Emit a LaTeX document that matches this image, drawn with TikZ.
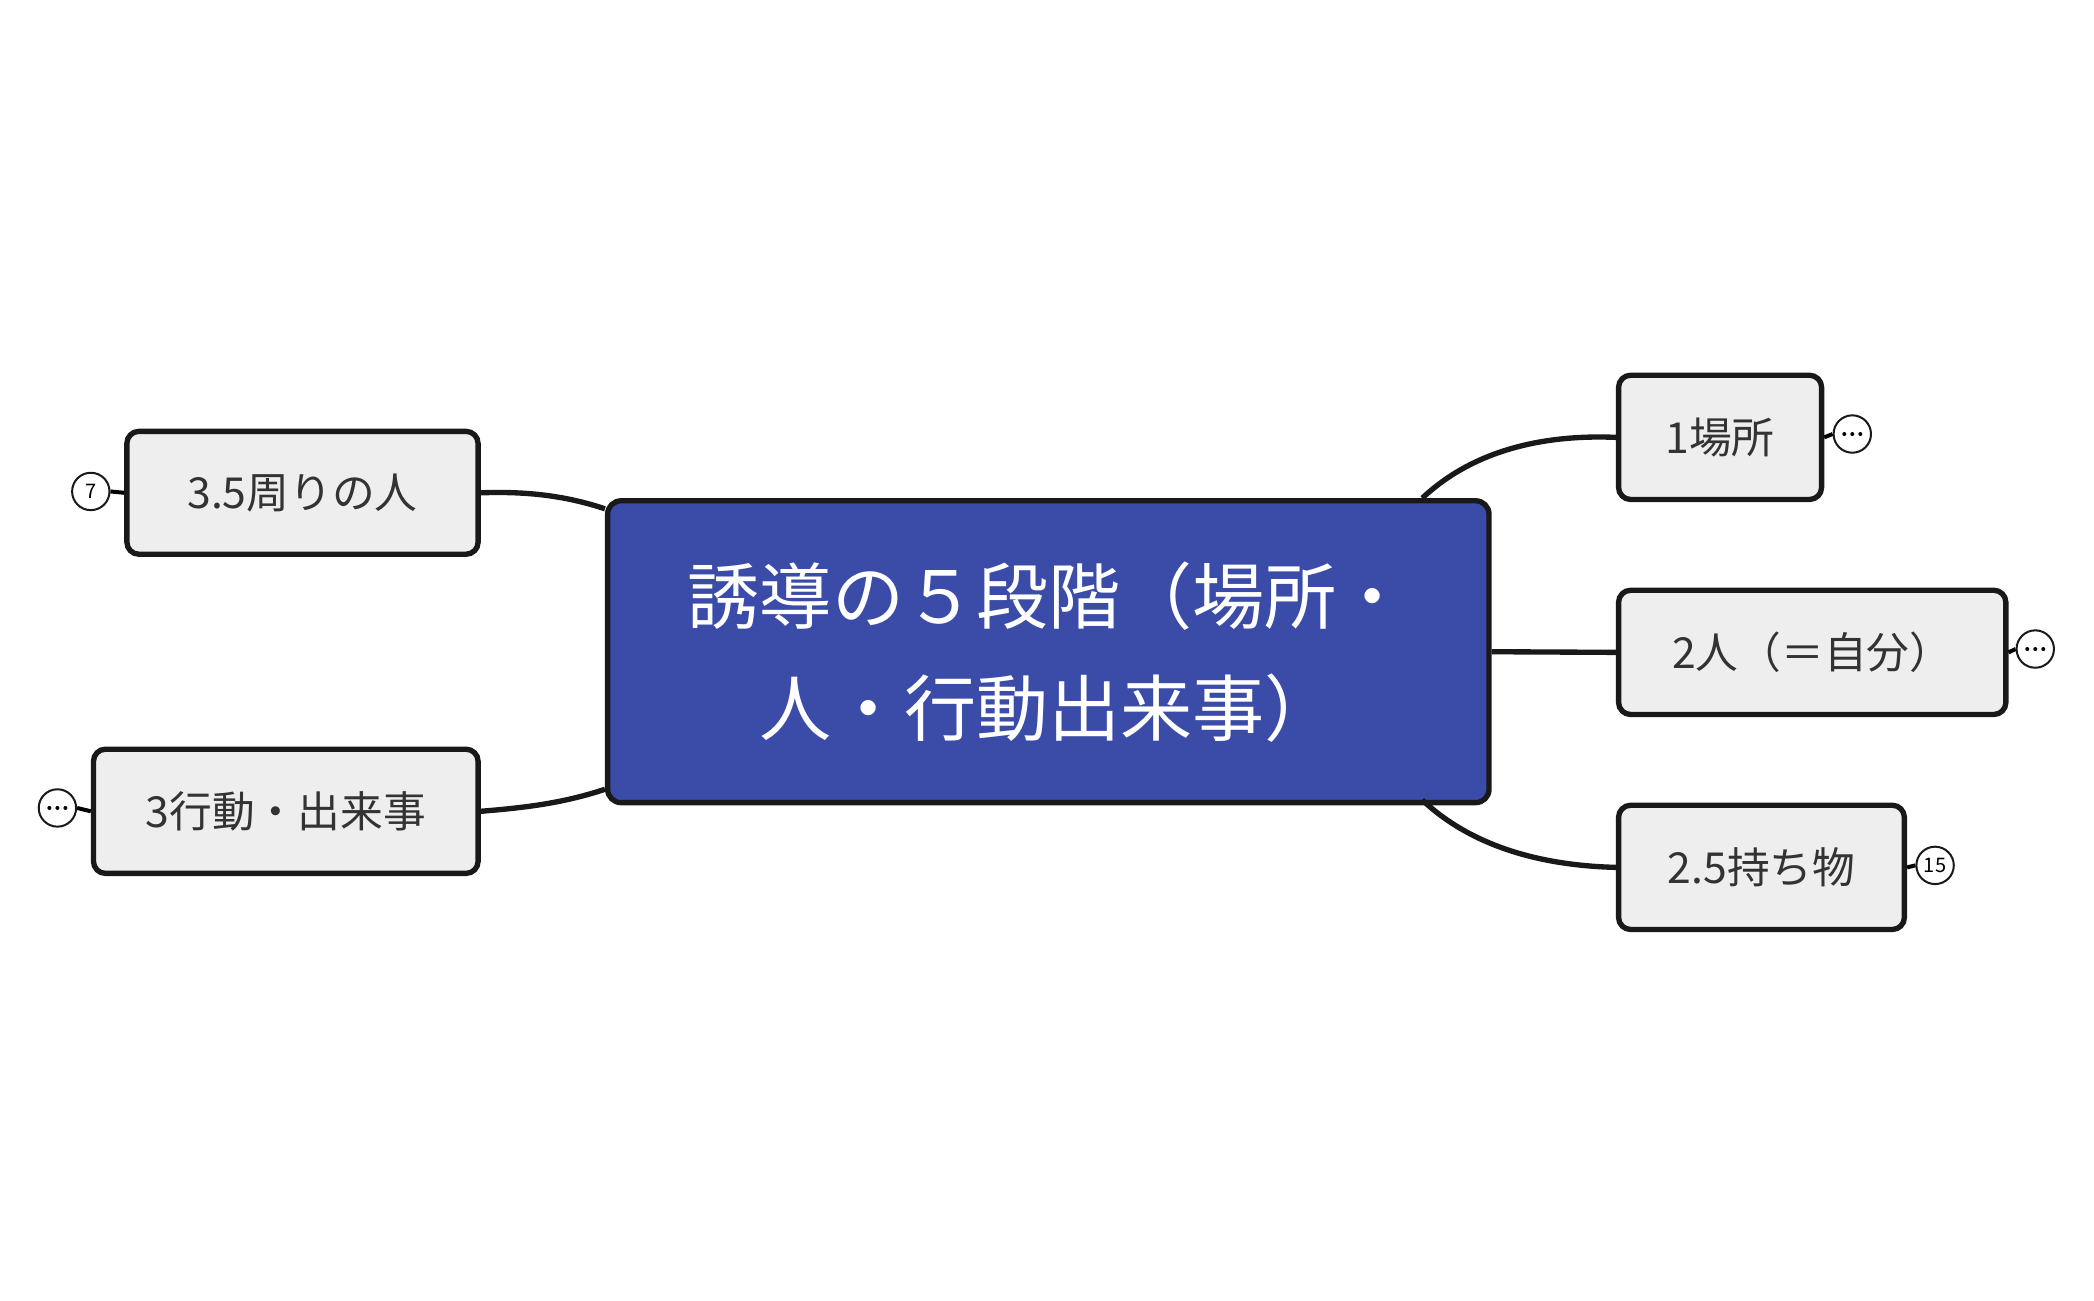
\documentclass[tikz,border=0pt]{standalone}
\usepackage{fontspec}
\setmainfont{Noto Sans CJK JP}
\begin{document}
\begin{tikzpicture}[x=1pt,y=-1pt,
 child/.style={draw=black!90,line width=4pt,rounded corners=9pt,fill=gray!13,anchor=north west,inner sep=0pt,font=\fontsize{32}{38}\selectfont,text=black!80},
 badge/.style={draw=black!90,line width=1.5pt,circle,fill=white,minimum size=28pt,inner sep=0pt,font=\fontsize{15}{15}\selectfont},
 conn/.style={line width=4pt,draw=black!90}]
\useasboundingbox (0,0) rectangle (1568,974);
\node[draw=black!90,line width=4pt,rounded corners=10pt,fill={rgb,255:red,58;green,75;blue,168},minimum width=660pt,minimum height=226pt,anchor=north west,text=white,align=center,font=\fontsize{54}{84}\selectfont] (c) at (453,373) {誘導の５段階（場所・\\人・行動出来事）};
\node[child,minimum width=152pt,minimum height=93pt] (a) at (1210,279) {1場所};
\node[child,minimum width=290pt,minimum height=93pt] (b) at (1210,440) {2人（＝自分）};
\node[child,minimum width=214pt,minimum height=93pt] (d) at (1210,601) {2.5持ち物};
\node[child,minimum width=263pt,minimum height=92pt] (e) at (93,321) {3.5周りの人};
\node[child,minimum width=288pt,minimum height=93pt] (f) at (68,559) {3行動・出来事};
\draw[conn] (1065,373) .. controls (1100,340) and (1150,325) .. (a.west);
\draw[conn] (c.east) -- (b.west);
\draw[conn] (1065,599) .. controls (1100,632) and (1150,648) .. (d.west);
\draw[conn] (453,381) .. controls (420,370) and (390,368) .. (e.east);
\draw[conn] (453,591) .. controls (420,602) and (390,605) .. (f.east);
\node[badge] (ba) at (1387,325) {};
\node[badge] (bb) at (1524,486) {};
\node[badge] (bd) at (1449,648) {15};
\node[badge] (be) at (68,368) {7};
\node[badge] (bf) at (43,605) {};
\draw[line width=3pt] (a.east)--(ba.west) (b.east)--(bb.west) (d.east)--(bd.west) (e.west)--(be.east) (f.west)--(bf.east);
\foreach \n in {ba,bb,bf}{\foreach \dx in {-6,0,6}{\fill ([xshift=\dx pt]\n.center) circle (1.5pt);}}
\end{tikzpicture}
\end{document}
